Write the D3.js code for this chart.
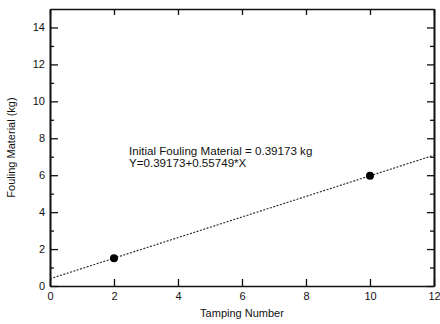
<!DOCTYPE html>
<html>
<head>
<meta charset="utf-8">
<script src="https://cdn.jsdelivr.net/npm/d3@7"></script>
<style>
  body { margin: 0; background: #fff; }
  svg text { font-family: "Liberation Sans", Arial, sans-serif; fill: #111; }
</style>
</head>
<body>
<div id="chart"></div>
<script>
// measured points
const tamping = [2, 10];
const fouling = [1.5, 5.97];

// fitted line Y = a + b*X
const intercept = 0.39173;
const slope = 0.55749;
const fitX = [0, 12];

const xTicks = [0, 2, 4, 6, 8, 10, 12];
const yTicks = [0, 2, 4, 6, 8, 10, 12, 14];
const yMinor = [1, 3, 5, 7, 9, 11, 13];

const width = 440;
const height = 324;
const margin = { top: 9, right: 6, bottom: 38, left: 50 };

const svg = d3
  .select('#chart')
  .append('svg')
  .attr('width', width)
  .attr('height', height);

const x = d3.scaleLinear().domain([0, 12]).range([margin.left, width - margin.right]);
const y = d3.scaleLinear().domain([0, 15]).range([height - margin.bottom, margin.top]);

const axisColor = '#111';

// bottom axis (ticks point inward)
svg
  .append('g')
  .attr('transform', `translate(0,${y(0)})`)
  .call(d3.axisBottom(x).tickValues(xTicks).tickSizeInner(-7).tickSizeOuter(0).tickPadding(6));
// top axis
svg
  .append('g')
  .attr('transform', `translate(0,${y(15)})`)
  .call(d3.axisTop(x).tickValues(xTicks).tickSizeInner(-6).tickSizeOuter(0).tickFormat(''));
// left axis
svg
  .append('g')
  .attr('transform', `translate(${x(0)},0)`)
  .call(d3.axisLeft(y).tickValues(yTicks).tickSizeInner(-8).tickSizeOuter(0).tickPadding(5));
svg
  .append('g')
  .attr('transform', `translate(${x(0)},0)`)
  .call(d3.axisLeft(y).tickValues(yMinor).tickSizeInner(-4).tickSizeOuter(0).tickFormat(''));
// right axis
svg
  .append('g')
  .attr('transform', `translate(${x(12)},0)`)
  .call(d3.axisRight(y).tickValues(yTicks).tickSizeInner(-7).tickSizeOuter(0).tickFormat(''));
svg
  .append('g')
  .attr('transform', `translate(${x(12)},0)`)
  .call(d3.axisRight(y).tickValues(yMinor).tickSizeInner(-4).tickSizeOuter(0).tickFormat(''));

svg.selectAll('.domain').attr('stroke', axisColor).attr('stroke-width', 1.6);
svg.selectAll('.tick line').attr('stroke', axisColor).attr('stroke-width', 1.3);
svg.selectAll('.tick text').attr('font-size', 11).attr('fill', '#111');

// fit line
const line = d3
  .line()
  .x((d) => x(d))
  .y((d) => y(intercept + slope * d));

svg
  .append('path')
  .datum(fitX)
  .attr('d', line)
  .attr('fill', 'none')
  .attr('stroke', '#222')
  .attr('stroke-width', 1.1)
  .attr('stroke-dasharray', '2,1.5');

// points
svg
  .append('g')
  .selectAll('circle')
  .data(tamping)
  .join('circle')
  .attr('cx', (d) => x(d))
  .attr('cy', (d, i) => y(fouling[i]))
  .attr('r', 4)
  .attr('fill', '#000');

// annotation
svg
  .append('text')
  .attr('x', 129)
  .attr('y', 155)
  .attr('font-size', 11.6)
  .text('Initial Fouling Material = ' + intercept + ' kg');
svg
  .append('text')
  .attr('x', 129)
  .attr('y', 167)
  .attr('font-size', 11.6)
  .text('Y=' + intercept + '+' + slope + '*X');

// axis titles
svg
  .append('text')
  .attr('x', (x(0) + x(12)) / 2)
  .attr('y', 317)
  .attr('text-anchor', 'middle')
  .attr('font-size', 11)
  .text('Tamping Number');
svg
  .append('text')
  .attr('transform', `translate(15,${(y(0) + y(15)) / 2}) rotate(-90)`)
  .attr('text-anchor', 'middle')
  .attr('font-size', 11)
  .text('Fouling Material (kg)');
</script>
</body>
</html>
